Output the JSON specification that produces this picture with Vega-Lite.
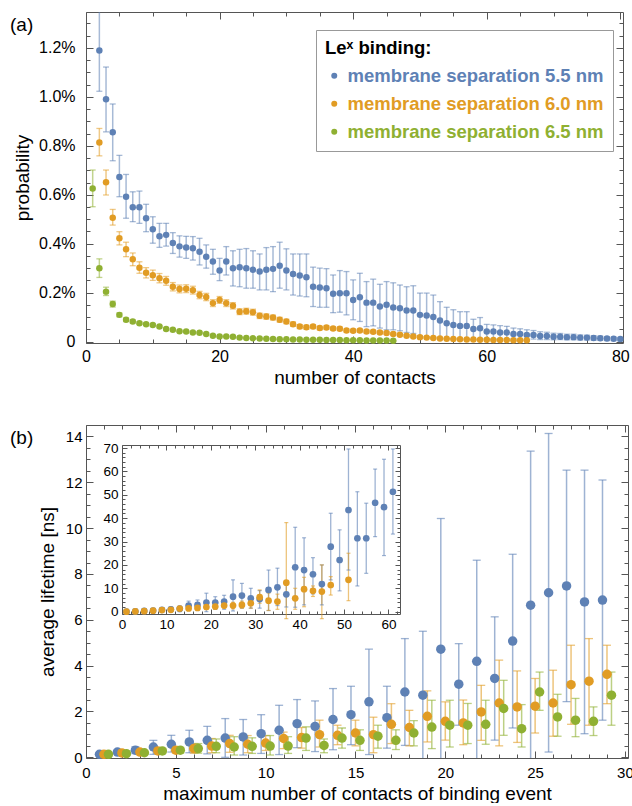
{
"$schema": "https://vega.github.io/schema/vega-lite/v6.json",
"padding": {"top": 11, "left": 10, "right": 0, "bottom": 0},
"spacing": 37,
"resolve": {"scale": {"color": "independent"}},
"config": {
  "font": "Liberation Sans",
  "view": {"stroke": null},
  "axis": {"grid": false, "domainColor": "#555555", "tickColor": "#555555", "domainWidth": 1, "tickWidth": 1, "labelColor": "#000000", "titleColor": "#000000", "titleFontWeight": "normal", "titleFontSize": 19, "labelFontSize": 16, "labelFlush": false, "labelOverlap": false, "labelFont": "Liberation Sans", "titleFont": "Liberation Sans"},
  "title": {"fontWeight": "normal", "fontSize": 19, "color": "#000000", "font": "Liberation Sans"},
  "legend": {"orient": "none", "legendX": 230, "legendY": 18, "titleFontSize": 18.5, "titleFontWeight": "bold", "titleColor": "#000000", "titlePadding": 9, "labelFontSize": 18.5, "labelFontWeight": "bold", "labelLimit": 400, "symbolType": "circle", "symbolSize": 36, "symbolStrokeWidth": 0, "rowPadding": 9, "padding": 9, "strokeColor": "#999999", "fillColor": "#ffffff"}
},
"datasets": {
"a": [
{"s":"5.5","n":2,"p":1.19,"lo":1.023,"hi":1.36},
{"s":"5.5","n":3,"p":0.99,"lo":0.857,"hi":1.122},
{"s":"5.5","n":4,"p":0.855,"lo":0.739,"hi":0.971},
{"s":"5.5","n":5,"p":0.673,"lo":0.592,"hi":0.761},
{"s":"5.5","n":6,"p":0.592,"lo":0.504,"hi":0.683},
{"s":"5.5","n":7,"p":0.549,"lo":0.49,"hi":0.612},
{"s":"5.5","n":8,"p":0.549,"lo":0.483,"hi":0.615},
{"s":"5.5","n":9,"p":0.504,"lo":0.449,"hi":0.561},
{"s":"5.5","n":10,"p":0.459,"lo":0.402,"hi":0.51},
{"s":"5.5","n":11,"p":0.43,"lo":0.385,"hi":0.483},
{"s":"5.5","n":12,"p":0.436,"lo":0.39,"hi":0.483},
{"s":"5.5","n":13,"p":0.403,"lo":0.36,"hi":0.445},
{"s":"5.5","n":14,"p":0.389,"lo":0.345,"hi":0.432},
{"s":"5.5","n":15,"p":0.384,"lo":0.34,"hi":0.43},
{"s":"5.5","n":16,"p":0.381,"lo":0.333,"hi":0.429},
{"s":"5.5","n":17,"p":0.367,"lo":0.313,"hi":0.422},
{"s":"5.5","n":18,"p":0.347,"lo":0.3,"hi":0.395},
{"s":"5.5","n":19,"p":0.327,"lo":0.275,"hi":0.377},
{"s":"5.5","n":20,"p":0.29,"lo":0.249,"hi":0.34},
{"s":"5.5","n":21,"p":0.327,"lo":0.272,"hi":0.388},
{"s":"5.5","n":22,"p":0.3,"lo":0.227,"hi":0.371},
{"s":"5.5","n":23,"p":0.304,"lo":0.224,"hi":0.377},
{"s":"5.5","n":24,"p":0.3,"lo":0.218,"hi":0.38},
{"s":"5.5","n":25,"p":0.293,"lo":0.218,"hi":0.371},
{"s":"5.5","n":26,"p":0.286,"lo":0.211,"hi":0.358},
{"s":"5.5","n":27,"p":0.293,"lo":0.211,"hi":0.384},
{"s":"5.5","n":28,"p":0.297,"lo":0.204,"hi":0.388},
{"s":"5.5","n":29,"p":0.31,"lo":0.218,"hi":0.406},
{"s":"5.5","n":30,"p":0.29,"lo":0.211,"hi":0.379},
{"s":"5.5","n":31,"p":0.276,"lo":0.19,"hi":0.358},
{"s":"5.5","n":32,"p":0.27,"lo":0.186,"hi":0.358},
{"s":"5.5","n":33,"p":0.263,"lo":0.183,"hi":0.358},
{"s":"5.5","n":34,"p":0.224,"lo":0.143,"hi":0.304},
{"s":"5.5","n":35,"p":0.221,"lo":0.14,"hi":0.3},
{"s":"5.5","n":36,"p":0.218,"lo":0.14,"hi":0.298},
{"s":"5.5","n":37,"p":0.195,"lo":0.118,"hi":0.272},
{"s":"5.5","n":38,"p":0.197,"lo":0.12,"hi":0.29},
{"s":"5.5","n":39,"p":0.197,"lo":0.109,"hi":0.286},
{"s":"5.5","n":40,"p":0.17,"lo":0.089,"hi":0.252},
{"s":"5.5","n":41,"p":0.181,"lo":0.082,"hi":0.279},
{"s":"5.5","n":42,"p":0.159,"lo":0.061,"hi":0.245},
{"s":"5.5","n":43,"p":0.159,"lo":0.064,"hi":0.255},
{"s":"5.5","n":44,"p":0.143,"lo":0.055,"hi":0.234},
{"s":"5.5","n":45,"p":0.15,"lo":0.048,"hi":0.245},
{"s":"5.5","n":46,"p":0.139,"lo":0.048,"hi":0.24},
{"s":"5.5","n":47,"p":0.136,"lo":0.044,"hi":0.231},
{"s":"5.5","n":48,"p":0.127,"lo":0.037,"hi":0.224},
{"s":"5.5","n":49,"p":0.127,"lo":0.033,"hi":0.228},
{"s":"5.5","n":50,"p":0.109,"lo":0.023,"hi":0.198},
{"s":"5.5","n":51,"p":0.106,"lo":0.02,"hi":0.198},
{"s":"5.5","n":52,"p":0.1,"lo":0.015,"hi":0.19},
{"s":"5.5","n":53,"p":0.086,"lo":0.015,"hi":0.163},
{"s":"5.5","n":54,"p":0.075,"lo":0.012,"hi":0.14},
{"s":"5.5","n":55,"p":0.068,"lo":0.012,"hi":0.13},
{"s":"5.5","n":56,"p":0.064,"lo":0.012,"hi":0.122},
{"s":"5.5","n":57,"p":0.064,"lo":0.012,"hi":0.122},
{"s":"5.5","n":58,"p":0.051,"lo":0.007,"hi":0.091},
{"s":"5.5","n":59,"p":0.054,"lo":0.01,"hi":0.098},
{"s":"5.5","n":60,"p":0.041,"lo":0.012,"hi":0.07},
{"s":"5.5","n":61,"p":0.041,"lo":0.01,"hi":0.068},
{"s":"5.5","n":62,"p":0.037,"lo":0.012,"hi":0.065},
{"s":"5.5","n":63,"p":0.037,"lo":0.012,"hi":0.062},
{"s":"5.5","n":64,"p":0.031,"lo":0.01,"hi":0.055},
{"s":"5.5","n":65,"p":0.031,"lo":0.01,"hi":0.052},
{"s":"5.5","n":66,"p":0.027,"lo":0.008,"hi":0.048},
{"s":"5.5","n":67,"p":0.027,"lo":0.01,"hi":0.045},
{"s":"5.5","n":68,"p":0.023,"lo":0.008,"hi":0.04},
{"s":"5.5","n":69,"p":0.023,"lo":0.008,"hi":0.038},
{"s":"5.5","n":70,"p":0.02,"lo":0.007,"hi":0.034},
{"s":"5.5","n":71,"p":0.02,"lo":0.008,"hi":0.033},
{"s":"5.5","n":72,"p":0.018,"lo":0.007,"hi":0.03},
{"s":"5.5","n":73,"p":0.018,"lo":0.007,"hi":0.03},
{"s":"5.5","n":74,"p":0.016,"lo":0.006,"hi":0.027},
{"s":"5.5","n":75,"p":0.016,"lo":0.006,"hi":0.026},
{"s":"5.5","n":76,"p":0.014,"lo":0.005,"hi":0.024},
{"s":"5.5","n":77,"p":0.013,"lo":0.005,"hi":0.022},
{"s":"5.5","n":78,"p":0.012,"lo":0.004,"hi":0.02},
{"s":"5.5","n":79,"p":0.011,"lo":0.004,"hi":0.018},
{"s":"5.5","n":80,"p":0.01,"lo":0.003,"hi":0.016},
{"s":"6.0","n":2,"p":0.814,"lo":0.759,"hi":0.871},
{"s":"6.0","n":3,"p":0.651,"lo":0.599,"hi":0.701},
{"s":"6.0","n":4,"p":0.506,"lo":0.476,"hi":0.54},
{"s":"6.0","n":5,"p":0.422,"lo":0.395,"hi":0.449},
{"s":"6.0","n":6,"p":0.377,"lo":0.347,"hi":0.406},
{"s":"6.0","n":7,"p":0.336,"lo":0.31,"hi":0.362},
{"s":"6.0","n":8,"p":0.302,"lo":0.279,"hi":0.326},
{"s":"6.0","n":9,"p":0.281,"lo":0.26,"hi":0.302},
{"s":"6.0","n":10,"p":0.271,"lo":0.25,"hi":0.292},
{"s":"6.0","n":11,"p":0.259,"lo":0.24,"hi":0.278},
{"s":"6.0","n":12,"p":0.248,"lo":0.23,"hi":0.266},
{"s":"6.0","n":13,"p":0.224,"lo":0.207,"hi":0.241},
{"s":"6.0","n":14,"p":0.215,"lo":0.199,"hi":0.231},
{"s":"6.0","n":15,"p":0.216,"lo":0.2,"hi":0.232},
{"s":"6.0","n":16,"p":0.21,"lo":0.194,"hi":0.226},
{"s":"6.0","n":17,"p":0.19,"lo":0.175,"hi":0.205},
{"s":"6.0","n":18,"p":0.182,"lo":0.167,"hi":0.197},
{"s":"6.0","n":19,"p":0.157,"lo":0.143,"hi":0.171},
{"s":"6.0","n":20,"p":0.17,"lo":0.156,"hi":0.184},
{"s":"6.0","n":21,"p":0.157,"lo":0.143,"hi":0.171},
{"s":"6.0","n":22,"p":0.146,"lo":0.133,"hi":0.159},
{"s":"6.0","n":23,"p":0.122,"lo":0.11,"hi":0.134},
{"s":"6.0","n":24,"p":0.124,"lo":0.112,"hi":0.136},
{"s":"6.0","n":25,"p":0.12,"lo":0.108,"hi":0.132},
{"s":"6.0","n":26,"p":0.105,"lo":0.094,"hi":0.116},
{"s":"6.0","n":27,"p":0.102,"lo":0.091,"hi":0.113},
{"s":"6.0","n":28,"p":0.098,"lo":0.088,"hi":0.108},
{"s":"6.0","n":29,"p":0.089,"lo":0.079,"hi":0.099},
{"s":"6.0","n":30,"p":0.082,"lo":0.073,"hi":0.091},
{"s":"6.0","n":31,"p":0.071,"lo":0.062,"hi":0.08},
{"s":"6.0","n":32,"p":0.061,"lo":0.053,"hi":0.069},
{"s":"6.0","n":33,"p":0.058,"lo":0.05,"hi":0.066},
{"s":"6.0","n":34,"p":0.061,"lo":0.053,"hi":0.069},
{"s":"6.0","n":35,"p":0.055,"lo":0.048,"hi":0.062},
{"s":"6.0","n":36,"p":0.057,"lo":0.05,"hi":0.064},
{"s":"6.0","n":37,"p":0.053,"lo":0.046,"hi":0.06},
{"s":"6.0","n":38,"p":0.052,"lo":0.045,"hi":0.059},
{"s":"6.0","n":39,"p":0.045,"lo":0.039,"hi":0.051},
{"s":"6.0","n":40,"p":0.044,"lo":0.038,"hi":0.05},
{"s":"6.0","n":41,"p":0.045,"lo":0.039,"hi":0.051},
{"s":"6.0","n":42,"p":0.041,"lo":0.035,"hi":0.047},
{"s":"6.0","n":43,"p":0.04,"lo":0.034,"hi":0.046},
{"s":"6.0","n":44,"p":0.037,"lo":0.032,"hi":0.042},
{"s":"6.0","n":45,"p":0.035,"lo":0.03,"hi":0.04},
{"s":"6.0","n":46,"p":0.031,"lo":0.026,"hi":0.036},
{"s":"6.0","n":47,"p":0.028,"lo":0.024,"hi":0.032},
{"s":"6.0","n":48,"p":0.024,"lo":0.02,"hi":0.028},
{"s":"6.0","n":49,"p":0.021,"lo":0.017,"hi":0.025},
{"s":"6.0","n":50,"p":0.018,"lo":0.015,"hi":0.021},
{"s":"6.0","n":51,"p":0.016,"lo":0.013,"hi":0.019},
{"s":"6.0","n":52,"p":0.014,"lo":0.011,"hi":0.017},
{"s":"6.0","n":53,"p":0.012,"lo":0.01,"hi":0.014},
{"s":"6.0","n":54,"p":0.011,"lo":0.009,"hi":0.013},
{"s":"6.0","n":55,"p":0.01,"lo":0.008,"hi":0.012},
{"s":"6.0","n":56,"p":0.009,"lo":0.007,"hi":0.011},
{"s":"6.0","n":57,"p":0.008,"lo":0.006,"hi":0.01},
{"s":"6.0","n":58,"p":0.008,"lo":0.006,"hi":0.01},
{"s":"6.0","n":59,"p":0.007,"lo":0.005,"hi":0.009},
{"s":"6.0","n":60,"p":0.007,"lo":0.005,"hi":0.009},
{"s":"6.0","n":61,"p":0.006,"lo":0.005,"hi":0.008},
{"s":"6.0","n":62,"p":0.006,"lo":0.005,"hi":0.008},
{"s":"6.0","n":63,"p":0.006,"lo":0.005,"hi":0.007},
{"s":"6.0","n":64,"p":0.005,"lo":0.004,"hi":0.006},
{"s":"6.0","n":65,"p":0.005,"lo":0.004,"hi":0.006},
{"s":"6.0","n":66,"p":0.005,"lo":0.004,"hi":0.006},
{"s":"6.5","n":1,"p":0.626,"lo":0.551,"hi":0.701},
{"s":"6.5","n":2,"p":0.3,"lo":0.262,"hi":0.338},
{"s":"6.5","n":3,"p":0.204,"lo":0.188,"hi":0.222},
{"s":"6.5","n":4,"p":0.153,"lo":0.141,"hi":0.165},
{"s":"6.5","n":5,"p":0.109,"lo":0.101,"hi":0.117},
{"s":"6.5","n":6,"p":0.089,"lo":0.082,"hi":0.096},
{"s":"6.5","n":7,"p":0.082,"lo":0.076,"hi":0.088},
{"s":"6.5","n":8,"p":0.075,"lo":0.07,"hi":0.08},
{"s":"6.5","n":9,"p":0.071,"lo":0.066,"hi":0.076},
{"s":"6.5","n":10,"p":0.068,"lo":0.063,"hi":0.073},
{"s":"6.5","n":11,"p":0.061,"lo":0.057,"hi":0.065},
{"s":"6.5","n":12,"p":0.051,"lo":0.047,"hi":0.055},
{"s":"6.5","n":13,"p":0.048,"lo":0.044,"hi":0.052},
{"s":"6.5","n":14,"p":0.042,"lo":0.039,"hi":0.045},
{"s":"6.5","n":15,"p":0.041,"lo":0.038,"hi":0.044},
{"s":"6.5","n":16,"p":0.037,"lo":0.034,"hi":0.04},
{"s":"6.5","n":17,"p":0.036,"lo":0.033,"hi":0.039},
{"s":"6.5","n":18,"p":0.031,"lo":0.028,"hi":0.034},
{"s":"6.5","n":19,"p":0.024,"lo":0.022,"hi":0.026},
{"s":"6.5","n":20,"p":0.021,"lo":0.019,"hi":0.023},
{"s":"6.5","n":21,"p":0.021,"lo":0.019,"hi":0.023},
{"s":"6.5","n":22,"p":0.02,"lo":0.018,"hi":0.022},
{"s":"6.5","n":23,"p":0.016,"lo":0.014,"hi":0.018},
{"s":"6.5","n":24,"p":0.014,"lo":0.012,"hi":0.016},
{"s":"6.5","n":25,"p":0.013,"lo":0.011,"hi":0.015},
{"s":"6.5","n":26,"p":0.012,"lo":0.01,"hi":0.014},
{"s":"6.5","n":27,"p":0.011,"lo":0.009,"hi":0.013},
{"s":"6.5","n":28,"p":0.01,"lo":0.008,"hi":0.012},
{"s":"6.5","n":29,"p":0.009,"lo":0.008,"hi":0.011},
{"s":"6.5","n":30,"p":0.009,"lo":0.008,"hi":0.011},
{"s":"6.5","n":31,"p":0.008,"lo":0.007,"hi":0.01},
{"s":"6.5","n":32,"p":0.008,"lo":0.007,"hi":0.01},
{"s":"6.5","n":33,"p":0.007,"lo":0.006,"hi":0.009},
{"s":"6.5","n":34,"p":0.007,"lo":0.006,"hi":0.009},
{"s":"6.5","n":35,"p":0.007,"lo":0.006,"hi":0.008},
{"s":"6.5","n":36,"p":0.006,"lo":0.005,"hi":0.007},
{"s":"6.5","n":37,"p":0.006,"lo":0.005,"hi":0.007},
{"s":"6.5","n":38,"p":0.006,"lo":0.005,"hi":0.007},
{"s":"6.5","n":39,"p":0.005,"lo":0.004,"hi":0.006},
{"s":"6.5","n":40,"p":0.005,"lo":0.004,"hi":0.006},
{"s":"6.5","n":41,"p":0.005,"lo":0.004,"hi":0.006},
{"s":"6.5","n":42,"p":0.004,"lo":0.003,"hi":0.005},
{"s":"6.5","n":43,"p":0.004,"lo":0.003,"hi":0.005},
{"s":"6.5","n":44,"p":0.004,"lo":0.003,"hi":0.005},
{"s":"6.5","n":45,"p":0.004,"lo":0.003,"hi":0.005},
{"s":"6.5","n":46,"p":0.003,"lo":0.002,"hi":0.004}
],
"b": [
{"s":"5.5","x":0.75,"v":0.13,"lo":0.08,"hi":0.18},
{"s":"5.5","x":1.75,"v":0.23,"lo":0.15,"hi":0.31},
{"s":"5.5","x":2.75,"v":0.31,"lo":0.16,"hi":0.46},
{"s":"5.5","x":3.75,"v":0.45,"lo":0.13,"hi":0.74},
{"s":"5.5","x":4.75,"v":0.57,"lo":0.23,"hi":0.96},
{"s":"5.5","x":5.75,"v":0.67,"lo":0.2,"hi":1.18},
{"s":"5.5","x":6.75,"v":0.74,"lo":0.15,"hi":1.35},
{"s":"5.5","x":7.75,"v":0.84,"lo":0.0,"hi":1.69},
{"s":"5.5","x":8.75,"v":0.89,"lo":0.1,"hi":1.65},
{"s":"5.5","x":9.75,"v":1.03,"lo":0.17,"hi":1.86},
{"s":"5.5","x":10.75,"v":1.18,"lo":0.12,"hi":2.27},
{"s":"5.5","x":11.75,"v":1.47,"lo":0.42,"hi":2.52},
{"s":"5.5","x":12.75,"v":1.35,"lo":0.25,"hi":2.46},
{"s":"5.5","x":13.75,"v":1.65,"lo":0.33,"hi":3.0},
{"s":"5.5","x":14.75,"v":1.86,"lo":0.55,"hi":3.1},
{"s":"5.5","x":15.75,"v":2.42,"lo":0.12,"hi":4.72},
{"s":"5.5","x":16.75,"v":1.73,"lo":0.4,"hi":3.1},
{"s":"5.5","x":17.75,"v":2.85,"lo":0.52,"hi":5.18},
{"s":"5.5","x":18.75,"v":2.71,"lo":-0.1,"hi":5.5},
{"s":"5.5","x":19.75,"v":4.72,"lo":-1.0,"hi":10.42},
{"s":"5.5","x":20.75,"v":3.19,"lo":1.4,"hi":4.96},
{"s":"5.5","x":21.75,"v":4.19,"lo":-0.22,"hi":8.6},
{"s":"5.5","x":22.75,"v":3.44,"lo":0.75,"hi":6.13},
{"s":"5.5","x":23.75,"v":5.07,"lo":1.28,"hi":8.86},
{"s":"5.5","x":24.75,"v":6.64,"lo":-0.1,"hi":13.36},
{"s":"5.5","x":25.75,"v":7.18,"lo":0.23,"hi":14.13},
{"s":"5.5","x":26.75,"v":7.48,"lo":2.43,"hi":12.53},
{"s":"5.5","x":27.75,"v":6.78,"lo":1.03,"hi":12.53},
{"s":"5.5","x":28.75,"v":6.86,"lo":1.62,"hi":12.1},
{"s":"6.0","x":1,"v":0.13,"lo":0.1,"hi":0.16},
{"s":"6.0","x":2,"v":0.19,"lo":0.15,"hi":0.23},
{"s":"6.0","x":3,"v":0.23,"lo":0.17,"hi":0.29},
{"s":"6.0","x":4,"v":0.28,"lo":0.18,"hi":0.38},
{"s":"6.0","x":5,"v":0.31,"lo":0.19,"hi":0.43},
{"s":"6.0","x":6,"v":0.38,"lo":0.18,"hi":0.6},
{"s":"6.0","x":7,"v":0.49,"lo":0.2,"hi":0.82},
{"s":"6.0","x":8,"v":0.6,"lo":0.22,"hi":0.96},
{"s":"6.0","x":9,"v":0.57,"lo":0.2,"hi":0.95},
{"s":"6.0","x":10,"v":0.62,"lo":0.3,"hi":0.95},
{"s":"6.0","x":11,"v":0.82,"lo":0.38,"hi":1.1},
{"s":"6.0","x":12,"v":0.86,"lo":0.4,"hi":1.3},
{"s":"6.0","x":13,"v":0.99,"lo":0.45,"hi":1.62},
{"s":"6.0","x":14,"v":0.96,"lo":0.55,"hi":1.4},
{"s":"6.0","x":15,"v":1.06,"lo":0.5,"hi":1.62},
{"s":"6.0","x":16,"v":0.99,"lo":0.2,"hi":1.75},
{"s":"6.0","x":17,"v":1.44,"lo":0.6,"hi":2.34},
{"s":"6.0","x":18,"v":1.3,"lo":0.5,"hi":2.05},
{"s":"6.0","x":19,"v":1.79,"lo":0.67,"hi":2.9},
{"s":"6.0","x":20,"v":1.57,"lo":0.75,"hi":2.42},
{"s":"6.0","x":21,"v":1.5,"lo":0.55,"hi":2.5},
{"s":"6.0","x":22,"v":1.98,"lo":0.74,"hi":3.14},
{"s":"6.0","x":23,"v":2.37,"lo":0.5,"hi":4.24},
{"s":"6.0","x":24,"v":2.2,"lo":0.65,"hi":3.77},
{"s":"6.0","x":25,"v":2.23,"lo":1.06,"hi":3.44},
{"s":"6.0","x":26,"v":2.37,"lo":0.92,"hi":3.8},
{"s":"6.0","x":27,"v":3.17,"lo":1.44,"hi":4.89},
{"s":"6.0","x":28,"v":3.32,"lo":1.4,"hi":5.18},
{"s":"6.0","x":29,"v":3.62,"lo":2.34,"hi":4.89},
{"s":"6.5","x":1.25,"v":0.13,"lo":0.1,"hi":0.16},
{"s":"6.5","x":2.25,"v":0.16,"lo":0.11,"hi":0.21},
{"s":"6.5","x":3.25,"v":0.2,"lo":0.13,"hi":0.27},
{"s":"6.5","x":4.25,"v":0.28,"lo":0.18,"hi":0.38},
{"s":"6.5","x":5.25,"v":0.31,"lo":0.19,"hi":0.43},
{"s":"6.5","x":6.25,"v":0.38,"lo":0.18,"hi":0.6},
{"s":"6.5","x":7.25,"v":0.48,"lo":0.2,"hi":0.8},
{"s":"6.5","x":8.25,"v":0.45,"lo":0.1,"hi":0.9},
{"s":"6.5","x":9.25,"v":0.48,"lo":0.17,"hi":0.85},
{"s":"6.5","x":10.25,"v":0.49,"lo":0.1,"hi":0.95},
{"s":"6.5","x":11.25,"v":0.49,"lo":0.17,"hi":0.9},
{"s":"6.5","x":12.25,"v":0.84,"lo":0.3,"hi":1.33},
{"s":"6.5","x":13.25,"v":0.52,"lo":0.2,"hi":0.8},
{"s":"6.5","x":14.25,"v":0.84,"lo":0.4,"hi":1.28},
{"s":"6.5","x":15.25,"v":0.74,"lo":0.3,"hi":1.2},
{"s":"6.5","x":16.25,"v":0.92,"lo":0.4,"hi":1.4},
{"s":"6.5","x":17.25,"v":0.74,"lo":0.34,"hi":1.2},
{"s":"6.5","x":18.25,"v":1.06,"lo":0.5,"hi":1.6},
{"s":"6.5","x":19.25,"v":1.32,"lo":0.38,"hi":2.49},
{"s":"6.5","x":20.25,"v":1.4,"lo":0.45,"hi":2.49},
{"s":"6.5","x":21.25,"v":1.4,"lo":0.6,"hi":2.35},
{"s":"6.5","x":22.25,"v":1.44,"lo":0.57,"hi":2.49},
{"s":"6.5","x":23.25,"v":2.13,"lo":0.96,"hi":3.36},
{"s":"6.5","x":24.25,"v":1.25,"lo":0.45,"hi":2.3},
{"s":"6.5","x":25.25,"v":2.85,"lo":2.05,"hi":3.72},
{"s":"6.5","x":26.25,"v":1.76,"lo":0.92,"hi":2.75},
{"s":"6.5","x":27.25,"v":1.62,"lo":0.9,"hi":2.57},
{"s":"6.5","x":28.25,"v":1.57,"lo":0.95,"hi":2.2},
{"s":"6.5","x":29.25,"v":2.71,"lo":1.4,"hi":3.72}
],
"inset": [
{"s":"5.5","x":1,"v":0.0,"lo":-0.4,"hi":0.4},
{"s":"5.5","x":3,"v":0.1,"lo":-0.3,"hi":0.5},
{"s":"5.5","x":5,"v":0.3,"lo":-0.2,"hi":0.8},
{"s":"5.5","x":7,"v":0.5,"lo":0.0,"hi":1.0},
{"s":"5.5","x":9,"v":0.8,"lo":0.1,"hi":1.5},
{"s":"5.5","x":11,"v":1.0,"lo":0.0,"hi":2.0},
{"s":"5.5","x":13,"v":1.2,"lo":0.0,"hi":2.5},
{"s":"5.5","x":15,"v":2.6,"lo":0.5,"hi":4.5},
{"s":"5.5","x":17,"v":2.9,"lo":0.5,"hi":5.0},
{"s":"5.5","x":19,"v":3.9,"lo":0.0,"hi":7.9},
{"s":"5.5","x":21,"v":3.9,"lo":1.0,"hi":6.4},
{"s":"5.5","x":23,"v":4.3,"lo":1.0,"hi":7.0},
{"s":"5.5","x":25,"v":6.4,"lo":0.3,"hi":13.6},
{"s":"5.5","x":27,"v":6.9,"lo":1.5,"hi":12.1},
{"s":"5.5","x":29,"v":5.7,"lo":1.5,"hi":10.0},
{"s":"5.5","x":31,"v":5.4,"lo":1.5,"hi":9.0},
{"s":"5.5","x":33,"v":9.3,"lo":0.5,"hi":17.8},
{"s":"5.5","x":35,"v":10.4,"lo":2.6,"hi":18.6},
{"s":"5.5","x":37,"v":7.4,"lo":2.0,"hi":12.5},
{"s":"5.5","x":39,"v":19.0,"lo":1.9,"hi":36.1},
{"s":"5.5","x":41,"v":17.8,"lo":2.9,"hi":31.6},
{"s":"5.5","x":43,"v":16.0,"lo":7.6,"hi":23.1},
{"s":"5.5","x":45,"v":11.8,"lo":2.9,"hi":20.0},
{"s":"5.5","x":47,"v":27.8,"lo":13.6,"hi":42.1},
{"s":"5.5","x":49,"v":22.1,"lo":8.9,"hi":35.0},
{"s":"5.5","x":51,"v":43.5,"lo":17.8,"hi":69.6},
{"s":"5.5","x":53,"v":31.4,"lo":11.0,"hi":51.3},
{"s":"5.5","x":55,"v":31.4,"lo":16.4,"hi":46.4},
{"s":"5.5","x":57,"v":46.6,"lo":32.1,"hi":61.0},
{"s":"5.5","x":59,"v":44.7,"lo":24.0,"hi":65.2},
{"s":"5.5","x":61,"v":51.3,"lo":33.2,"hi":69.6},
{"s":"6.0","x":1,"v":0.0,"lo":-0.3,"hi":0.3},
{"s":"6.0","x":3,"v":0.1,"lo":-0.2,"hi":0.4},
{"s":"6.0","x":5,"v":0.2,"lo":-0.1,"hi":0.5},
{"s":"6.0","x":7,"v":0.4,"lo":0.1,"hi":0.7},
{"s":"6.0","x":9,"v":0.7,"lo":0.3,"hi":1.1},
{"s":"6.0","x":11,"v":0.8,"lo":0.3,"hi":1.3},
{"s":"6.0","x":13,"v":1.3,"lo":0.6,"hi":2.0},
{"s":"6.0","x":15,"v":1.4,"lo":0.6,"hi":2.2},
{"s":"6.0","x":17,"v":1.6,"lo":0.7,"hi":2.5},
{"s":"6.0","x":19,"v":2.0,"lo":1.0,"hi":3.0},
{"s":"6.0","x":21,"v":2.2,"lo":1.0,"hi":3.4},
{"s":"6.0","x":23,"v":2.6,"lo":1.5,"hi":3.8},
{"s":"6.0","x":25,"v":2.6,"lo":1.2,"hi":4.0},
{"s":"6.0","x":27,"v":2.9,"lo":1.5,"hi":4.5},
{"s":"6.0","x":29,"v":3.6,"lo":1.5,"hi":6.0},
{"s":"6.0","x":31,"v":6.2,"lo":3.6,"hi":9.3},
{"s":"6.0","x":33,"v":4.7,"lo":0.5,"hi":8.0},
{"s":"6.0","x":35,"v":4.3,"lo":1.0,"hi":7.5},
{"s":"6.0","x":37,"v":12.4,"lo":-3.0,"hi":38.1},
{"s":"6.0","x":39,"v":5.7,"lo":1.0,"hi":10.0},
{"s":"6.0","x":41,"v":9.6,"lo":2.1,"hi":14.7},
{"s":"6.0","x":43,"v":8.9,"lo":6.5,"hi":11.0},
{"s":"6.0","x":45,"v":8.6,"lo":-3.0,"hi":20.0},
{"s":"6.0","x":47,"v":11.4,"lo":7.1,"hi":15.0},
{"s":"6.0","x":51,"v":13.6,"lo":4.7,"hi":25.0}
]
},
"vconcat": [
{
  "width": 537, "height": 331,
  "title": {"text": "(a)", "anchor": "start", "frame": "group", "orient": "top", "offset": -23, "dx": -76},
  "data": {"name": "a"},
  "layer": [
    {"mark": {"type": "rule", "clip": true, "strokeWidth": 1.5, "opacity": 0.55},
     "encoding": {
       "x": {"field": "n", "type": "quantitative", "scale": {"domain": [0, 80.4], "nice": false, "zero": false},
             "axis": {"orient": "bottom", "title": "number of contacts", "values": [0,5,10,15,20,25,30,35,40,45,50,55,60,65,70,75,80], "labelExpr": "datum.value % 20 === 0 ? datum.label : ''", "tickSize": {"condition": {"test": "datum.value % 20 === 0", "value": -7}, "value": -4}, "labelPadding": 12, "titlePadding": 1}},
       "y": {"field": "lo", "type": "quantitative", "scale": {"domain": [-0.006, 1.347], "nice": false, "zero": false},
             "axis": {"orient": "left", "title": "probability", "values": [0,0.05,0.1,0.15,0.2,0.25,0.3,0.35,0.4,0.45,0.5,0.55,0.6,0.65,0.7,0.75,0.8,0.85,0.9,0.95,1,1.05,1.1,1.15,1.2,1.25,1.3], "labelExpr": "datum.value === 0 ? '0' : (abs(datum.value*5 - round(datum.value*5)) < 0.001 ? format(datum.value, '.1f') + '%' : '')", "tickSize": {"condition": {"test": "abs(datum.value*5 - round(datum.value*5)) < 0.001", "value": -7}, "value": -4}, "labelPadding": 18, "titlePadding": 6}},
       "y2": {"field": "hi"},
       "color": {"field": "s", "type": "nominal", "scale": {"domain": ["5.5", "6.0", "6.5"], "range": ["#5e81b5", "#e19c24", "#8fb032"]}}
     }},
    {"mark": {"type": "tick", "orient": "horizontal", "clip": true, "size": 6, "thickness": 1.3, "opacity": 0.55},
     "encoding": {
       "x": {"field": "n", "type": "quantitative", "scale": {"domain": [0, 80.4], "nice": false, "zero": false}, "axis": null},
       "y": {"field": "lo", "type": "quantitative", "scale": {"domain": [-0.006, 1.347], "nice": false, "zero": false}, "axis": null},
       "color": {"field": "s", "type": "nominal"}
     }},
    {"mark": {"type": "tick", "orient": "horizontal", "clip": true, "size": 6, "thickness": 1.3, "opacity": 0.55},
     "encoding": {
       "x": {"field": "n", "type": "quantitative", "scale": {"domain": [0, 80.4], "nice": false, "zero": false}, "axis": null},
       "y": {"field": "hi", "type": "quantitative", "scale": {"domain": [-0.006, 1.347], "nice": false, "zero": false}, "axis": null},
       "color": {"field": "s", "type": "nominal"}
     }},
    {"mark": {"type": "circle", "size": 42, "opacity": 1},
     "encoding": {
       "x": {"field": "n", "type": "quantitative", "scale": {"domain": [0, 80.4], "nice": false, "zero": false},
             "axis": {"orient": "top", "title": null, "labels": false, "values": [0,5,10,15,20,25,30,35,40,45,50,55,60,65,70,75,80], "tickSize": {"condition": {"test": "datum.value % 20 === 0", "value": -7}, "value": -4}}},
       "y": {"field": "p", "type": "quantitative", "scale": {"domain": [-0.006, 1.347], "nice": false, "zero": false},
             "axis": {"orient": "right", "title": null, "labels": false, "values": [0,0.05,0.1,0.15,0.2,0.25,0.3,0.35,0.4,0.45,0.5,0.55,0.6,0.65,0.7,0.75,0.8,0.85,0.9,0.95,1,1.05,1.1,1.15,1.2,1.25,1.3], "tickSize": {"condition": {"test": "abs(datum.value*5 - round(datum.value*5)) < 0.001", "value": -7}, "value": -4}}},
       "color": {"field": "s", "type": "nominal",
                 "legend": {"orient": "none", "legendX": 230, "legendY": 18, "title": "Leˣ binding:",
                            "labelExpr": "'membrane separation ' + datum.label + ' nm'",
                            "symbolType": "circle",
                            "encoding": {"labels": {"fill": {"condition": [{"test": "datum.value === '5.5'", "value": "#5e81b5"}, {"test": "datum.value === '6.0'", "value": "#e19c24"}], "value": "#8fb032"}}}}}
     }}
  ]
},
{
  "width": 542, "height": 333,
  "title": {"text": "(b)", "anchor": "start", "frame": "group", "orient": "top", "offset": -23, "dx": -76},
  "resolve": {"scale": {"x": "independent", "y": "independent"}, "axis": {"x": "independent", "y": "independent"}},
  "layer": [
    {"data": {"name": "b"},
     "layer": [
      {"mark": {"type": "rule", "clip": true, "strokeWidth": 1.5, "opacity": 0.6},
       "encoding": {
         "x": {"field": "x", "type": "quantitative", "scale": {"domain": [0, 30.17], "nice": false, "zero": false},
               "axis": {"orient": "bottom", "title": "maximum number of contacts of binding event", "values": [0,1,2,3,4,5,6,7,8,9,10,11,12,13,14,15,16,17,18,19,20,21,22,23,24,25,26,27,28,29,30], "labelExpr": "datum.value % 5 === 0 ? datum.label : ''", "tickSize": {"condition": {"test": "datum.value % 5 === 0", "value": -7}, "value": -4}, "labelPadding": 14, "labelFontSize": 15, "titlePadding": 1}},
         "y": {"field": "lo", "type": "quantitative", "scale": {"domain": [-0.03, 14.5], "nice": false, "zero": false},
               "axis": {"orient": "left", "title": "average lifetime [ns]", "values": [0,0.5,1,1.5,2,2.5,3,3.5,4,4.5,5,5.5,6,6.5,7,7.5,8,8.5,9,9.5,10,10.5,11,11.5,12,12.5,13,13.5,14], "labelExpr": "datum.value % 2 === 0 ? format(datum.value, 'd') : ''", "tickSize": {"condition": {"test": "datum.value % 2 === 0", "value": -7}, "value": -4}, "labelPadding": 11, "labelFontSize": 15, "titlePadding": 8}},
         "y2": {"field": "hi"},
         "color": {"field": "s", "type": "nominal", "scale": {"domain": ["5.5", "6.0", "6.5"], "range": ["#5e81b5", "#e19c24", "#8fb032"]}, "legend": null}
       }},
      {"mark": {"type": "tick", "orient": "horizontal", "clip": true, "size": 8, "thickness": 1.3, "opacity": 0.6},
       "encoding": {
         "x": {"field": "x", "type": "quantitative", "scale": {"domain": [0, 30.17], "nice": false, "zero": false}, "axis": null},
         "y": {"field": "lo", "type": "quantitative", "scale": {"domain": [-0.03, 14.5], "nice": false, "zero": false}, "axis": null},
         "color": {"field": "s", "type": "nominal", "legend": null}
       }},
      {"mark": {"type": "tick", "orient": "horizontal", "clip": true, "size": 8, "thickness": 1.3, "opacity": 0.6},
       "encoding": {
         "x": {"field": "x", "type": "quantitative", "scale": {"domain": [0, 30.17], "nice": false, "zero": false}, "axis": null},
         "y": {"field": "hi", "type": "quantitative", "scale": {"domain": [-0.03, 14.5], "nice": false, "zero": false}, "axis": null},
         "color": {"field": "s", "type": "nominal", "legend": null}
       }},
      {"mark": {"type": "circle", "size": 90, "opacity": 1},
       "encoding": {
         "x": {"field": "x", "type": "quantitative", "scale": {"domain": [0, 30.17], "nice": false, "zero": false},
               "axis": {"orient": "top", "title": null, "labels": false, "values": [0,1,2,3,4,5,6,7,8,9,10,11,12,13,14,15,16,17,18,19,20,21,22,23,24,25,26,27,28,29,30], "tickSize": {"condition": {"test": "datum.value % 5 === 0", "value": -7}, "value": -4}}},
         "y": {"field": "v", "type": "quantitative", "scale": {"domain": [-0.03, 14.5], "nice": false, "zero": false},
               "axis": {"orient": "right", "title": null, "labels": false, "values": [0,0.5,1,1.5,2,2.5,3,3.5,4,4.5,5,5.5,6,6.5,7,7.5,8,8.5,9,9.5,10,10.5,11,11.5,12,12.5,13,13.5,14], "tickSize": {"condition": {"test": "datum.value % 2 === 0", "value": -7}, "value": -4}}},
         "color": {"field": "s", "type": "nominal", "legend": null}
       }}
     ]},
    {"data": {"name": "inset"},
     "layer": [
      {"mark": {"type": "rule", "clip": true, "strokeWidth": 1.3, "opacity": 0.6},
       "encoding": {
         "x": {"field": "x", "type": "quantitative", "scale": {"domain": [0, 62.6], "range": [36, 314], "nice": false, "zero": false},
               "axis": {"orient": "bottom", "offset": -144, "title": null, "values": [0,2,4,6,8,10,12,14,16,18,20,22,24,26,28,30,32,34,36,38,40,42,44,46,48,50,52,54,56,58,60,62], "labelExpr": "datum.value % 10 === 0 ? datum.label : ''", "tickSize": {"condition": {"test": "datum.value % 10 === 0", "value": -5}, "value": -3}, "labelPadding": 8, "labelFontSize": 13.5}},
         "y": {"field": "lo", "type": "quantitative", "scale": {"domain": [-1, 71.3], "range": [189, 20], "nice": false, "zero": false},
               "axis": {"orient": "left", "offset": -36, "title": null, "values": [0,2,4,6,8,10,12,14,16,18,20,22,24,26,28,30,32,34,36,38,40,42,44,46,48,50,52,54,56,58,60,62,64,66,68,70], "labelExpr": "datum.value % 10 === 0 ? datum.label : ''", "tickSize": {"condition": {"test": "datum.value % 10 === 0", "value": -5}, "value": -3}, "labelPadding": 9, "labelFontSize": 13.5}},
         "y2": {"field": "hi"},
         "color": {"field": "s", "type": "nominal", "legend": null}
       }},
      {"mark": {"type": "tick", "orient": "horizontal", "clip": true, "size": 4, "thickness": 1.2, "opacity": 0.6},
       "encoding": {
         "x": {"field": "x", "type": "quantitative", "scale": {"domain": [0, 62.6], "range": [36, 314], "nice": false, "zero": false}, "axis": null},
         "y": {"field": "lo", "type": "quantitative", "scale": {"domain": [-1, 71.3], "range": [189, 20], "nice": false, "zero": false}, "axis": null},
         "color": {"field": "s", "type": "nominal", "legend": null}
       }},
      {"mark": {"type": "tick", "orient": "horizontal", "clip": true, "size": 4, "thickness": 1.2, "opacity": 0.6},
       "encoding": {
         "x": {"field": "x", "type": "quantitative", "scale": {"domain": [0, 62.6], "range": [36, 314], "nice": false, "zero": false}, "axis": null},
         "y": {"field": "hi", "type": "quantitative", "scale": {"domain": [-1, 71.3], "range": [189, 20], "nice": false, "zero": false}, "axis": null},
         "color": {"field": "s", "type": "nominal", "legend": null}
       }},
      {"mark": {"type": "circle", "size": 45, "opacity": 1},
       "encoding": {
         "x": {"field": "x", "type": "quantitative", "scale": {"domain": [0, 62.6], "range": [36, 314], "nice": false, "zero": false},
               "axis": {"orient": "top", "offset": -20, "title": null, "labels": false, "values": [0,2,4,6,8,10,12,14,16,18,20,22,24,26,28,30,32,34,36,38,40,42,44,46,48,50,52,54,56,58,60,62], "tickSize": {"condition": {"test": "datum.value % 10 === 0", "value": -5}, "value": -3}}},
         "y": {"field": "v", "type": "quantitative", "scale": {"domain": [-1, 71.3], "range": [189, 20], "nice": false, "zero": false},
               "axis": {"orient": "right", "offset": -228, "title": null, "labels": false, "values": [0,2,4,6,8,10,12,14,16,18,20,22,24,26,28,30,32,34,36,38,40,42,44,46,48,50,52,54,56,58,60,62,64,66,68,70], "tickSize": {"condition": {"test": "datum.value % 10 === 0", "value": -5}, "value": -3}}},
         "color": {"field": "s", "type": "nominal", "legend": null}
       }}
     ]}
  ]
}
]
}
